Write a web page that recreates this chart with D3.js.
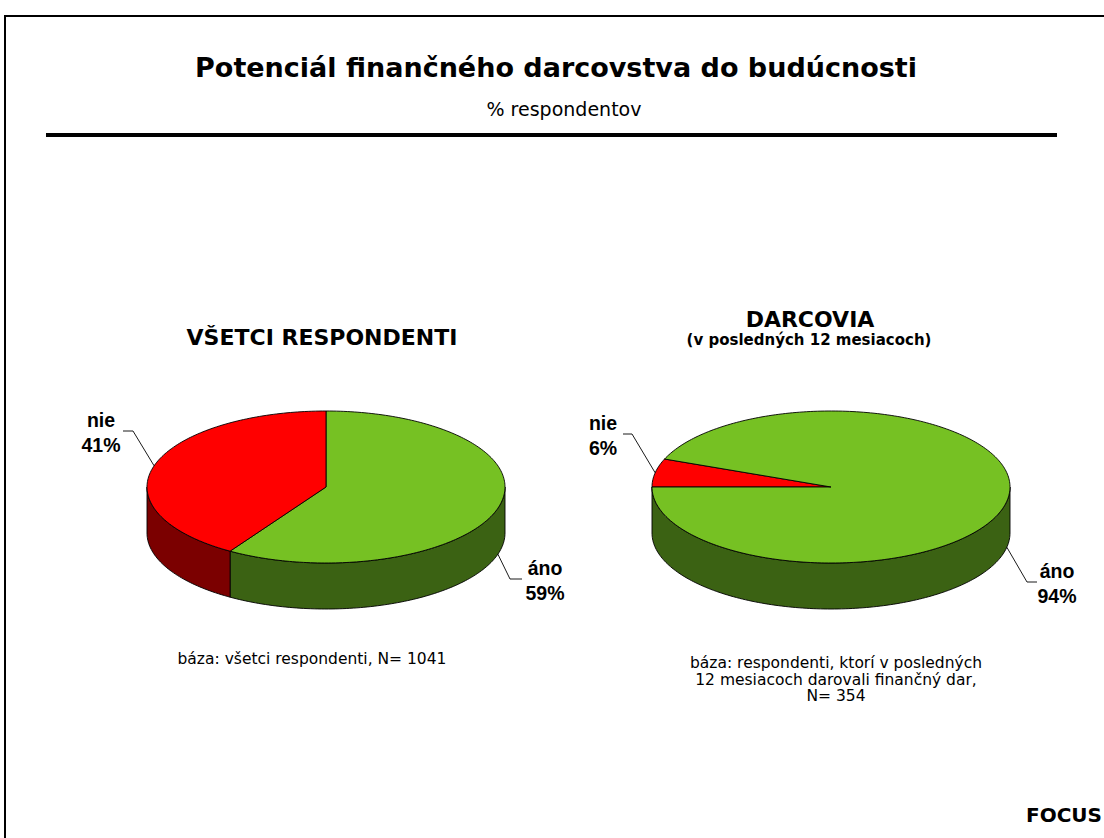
<!DOCTYPE html>
<html><head><meta charset="utf-8">
<script src="https://cdn.jsdelivr.net/npm/d3@7"></script>
<style>
html,body{margin:0;padding:0;background:#fff;}
svg{display:block;}
</style></head>
<body>
<script>
// ---- data ----
const chartTitle = "Potenciál finančného darcovstva do budúcnosti";
const chartSubtitle = "% respondentov";
const categories = ["áno", "nie"];
const valuesAll = [59, 41];
const valuesDonors = [94, 6];
const pieTitles = ["VŠETCI RESPONDENTI", "DARCOVIA"];
const pieSubtitles = ["", "(v posledných 12 mesiacoch)"];
const baseNotes = [
  ["báza: všetci respondenti, N= 1041"],
  ["báza: respondenti, ktorí v posledných", "12 mesiacoch darovali finančný dar,", "N= 354"]
];
const sourceLabel = "FOCUS";

// ---- layout / style ----
const W = 1104, H = 838;
const topColors = {"áno": "#76c123", "nie": "#ff0000"};
const sideColors = {"áno": "#3b6213", "nie": "#7b0000"};
const RX = 179, RY = 76, DEPTH = 46;

const pies = [
  {values: valuesAll, cx: 326, cy: 487, order: ["áno", "nie"], start: 0,
   titleX: 322, titleY: 345, noteX: 312, noteY: 664,
   labels: {
     "nie": {tx: 101, ty: 427, ly: 431, lx: 123, ex: 133},
     "áno": {tx: 545, ty: 575, ly: 579, lx: 522, ex: 510}
   }},
  {values: valuesDonors, cx: 831, cy: 487, order: ["nie", "áno"], start: 1.5 * Math.PI,
   titleX: 810, titleY: 327, noteX: 836, noteY: 668,
   labels: {
     "nie": {tx: 603, ty: 430, ly: 434, lx: 623, ex: 632},
     "áno": {tx: 1057, ty: 578, ly: 582, lx: 1037, ex: 1027}
   }}
];

const svg = d3.select("body").append("svg").attr("width", W).attr("height", H);
svg.append("rect").attr("x", 0).attr("y", 0).attr("width", W).attr("height", H).attr("fill", "#fff");
// frame
svg.append("rect").attr("x", 5).attr("y", 16).attr("width", W + 20).attr("height", H + 20)
  .attr("fill", "none").attr("stroke", "#000").attr("stroke-width", 2);

const verdana = "Verdana, 'DejaVu Sans', sans-serif";
const arial = "Arial, 'Liberation Sans', sans-serif";

svg.append("text").attr("x", 556).attr("y", 77).attr("text-anchor", "middle")
  .attr("font-family", verdana).attr("font-weight", "bold").attr("font-size", 27).text(chartTitle);
svg.append("text").attr("x", 564).attr("y", 116).attr("text-anchor", "middle")
  .attr("font-family", verdana).attr("font-size", 19).text(chartSubtitle);
svg.append("line").attr("x1", 46).attr("x2", 1057).attr("y1", 135).attr("y2", 135)
  .attr("stroke", "#000").attr("stroke-width", 4);

svg.append("text").attr("x", 1102).attr("y", 822).attr("text-anchor", "end")
  .attr("font-family", verdana).attr("font-weight", "bold").attr("font-size", 20).text(sourceLabel);

function ellPt(p, a, dy) {
  return [p.cx + RX * Math.sin(a), p.cy - RY * Math.cos(a) + (dy || 0)];
}
function arcPts(p, a0, a1, dy) {
  const n = Math.max(2, Math.ceil(Math.abs(a1 - a0) / 0.02));
  return d3.range(n + 1).map(i => ellPt(p, a0 + (a1 - a0) * i / n, dy));
}
const line = d3.line();

pies.forEach((p, pi) => {
  const g = svg.append("g");
  const dataMap = {};
  categories.forEach((c, i) => dataMap[c] = p.values[i]);
  const arcs = d3.pie().sort(null).value(d => d.v)
    .startAngle(p.start).endAngle(p.start + 2 * Math.PI)(p.order.map(c => ({c, v: dataMap[c]})));

  // side walls (front half: angle in [pi/2, 3pi/2] mod 2pi)
  arcs.forEach(a => {
    for (let k = -1; k <= 2; k++) {
      const lo = Math.max(a.startAngle, Math.PI / 2 + 2 * Math.PI * k);
      const hi = Math.min(a.endAngle, 1.5 * Math.PI + 2 * Math.PI * k);
      if (hi > lo) {
        const top = arcPts(p, lo, hi, 0);
        const bot = arcPts(p, hi, lo, DEPTH);
        g.append("path").attr("d", line(top.concat(bot)) + "Z")
          .attr("fill", sideColors[a.data.c]).attr("stroke", "#000").attr("stroke-width", 0.9)
          .attr("stroke-linejoin", "round");
      }
    }
  });
  // top faces
  arcs.forEach(a => {
    const pts = [[p.cx, p.cy]].concat(arcPts(p, a.startAngle, a.endAngle, 0));
    g.append("path").attr("d", line(pts) + "Z")
      .attr("fill", topColors[a.data.c]).attr("stroke", "#000").attr("stroke-width", 0.9)
      .attr("stroke-linejoin", "round");
  });
  // labels with leader lines
  arcs.forEach(a => {
    const mid = (a.startAngle + a.endAngle) / 2;
    const front = Math.cos(mid) < 0;
    const anc = ellPt(p, mid, front ? DEPTH : 0);
    const L = p.labels[a.data.c];
    g.append("path").attr("d", line([anc, [L.ex, L.ly], [L.lx, L.ly]]))
      .attr("fill", "none").attr("stroke", "#000").attr("stroke-width", 0.9);
    const t = g.append("text").attr("text-anchor", "middle").attr("font-family", arial)
      .attr("font-weight", "bold").attr("font-size", 19.5);
    t.append("tspan").attr("x", L.tx).attr("y", L.ty).text(a.data.c);
    t.append("tspan").attr("x", L.tx).attr("y", L.ty + 25).text(Math.round(a.data.v) + "%");
  });
  // pie titles
  g.append("text").attr("x", p.titleX).attr("y", p.titleY).attr("text-anchor", "middle")
    .attr("font-family", verdana).attr("font-weight", "bold").attr("font-size", 22).text(pieTitles[pi]);
  if (pieSubtitles[pi]) {
    g.append("text").attr("x", p.titleX - 1).attr("y", p.titleY + 18).attr("text-anchor", "middle")
      .attr("font-family", verdana).attr("font-weight", "bold").attr("font-size", 15).text(pieSubtitles[pi]);
  }
  // base notes
  const nt = g.append("text").attr("text-anchor", "middle").attr("font-family", verdana).attr("font-size", 15.5);
  baseNotes[pi].forEach((s, i) => nt.append("tspan").attr("x", p.noteX).attr("y", p.noteY + i * 16.5).text(s));
});
</script>
</body></html>
